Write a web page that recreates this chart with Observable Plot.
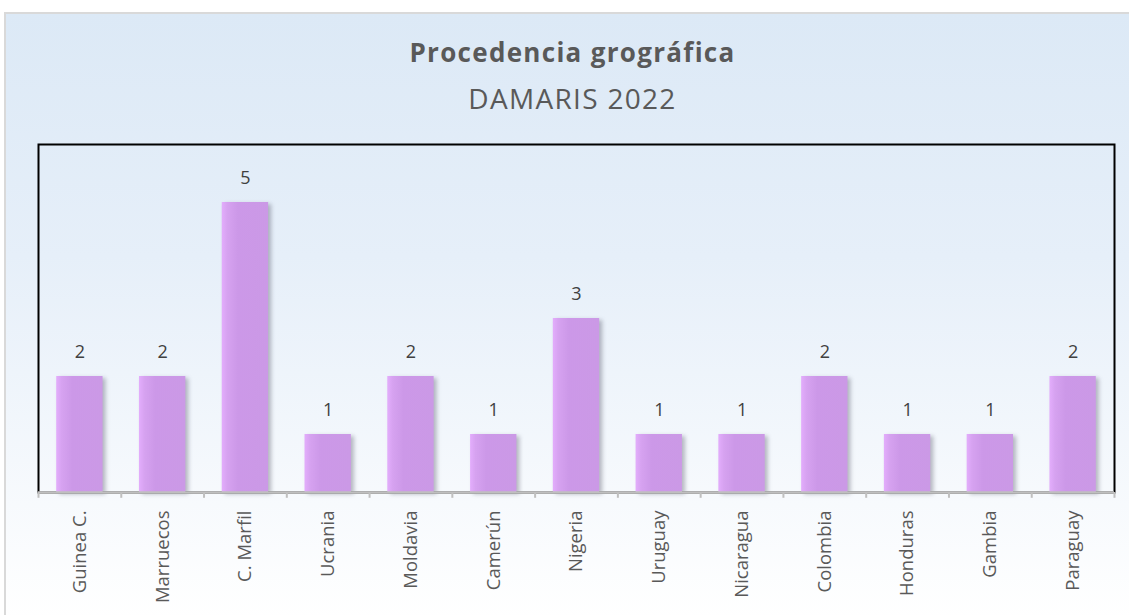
<!DOCTYPE html>
<html>
<head>
<meta charset="utf-8">
<script src="https://cdn.jsdelivr.net/npm/d3@7"></script>
<script src="https://cdn.jsdelivr.net/npm/@observablehq/plot@0.6"></script>
<style>
  html, body { margin: 0; padding: 0; background: #fff; width: 1129px; height: 615px; overflow: hidden; }
  #frame { position: absolute; left: 4px; top: 12px; width: 1130px; height: 610px;
    border: 2px solid #d9d9d9; box-sizing: border-box;
    background: linear-gradient(to bottom, #dce9f6 0%, #e6eff9 40%, #ffffff 100%); }
  #title { position: absolute; left: 10px; width: 1125px; top: 39px; text-align: center; line-height: 1;
    font-family: "Open Sans", sans-serif; font-weight: bold; font-size: 26px; letter-spacing: 1.3px; color: #595959; }
  #subtitle { position: absolute; left: 10px; width: 1125px; top: 84px; text-align: center; line-height: 1;
    font-family: "Open Sans", sans-serif; font-size: 28px; letter-spacing: 1.3px; color: #595959; }
  #chart { position: absolute; left: 0; top: 0; }
  #chart svg { background: transparent !important; }
  .bars rect { filter: drop-shadow(3px 2px 2px rgba(60,60,80,0.35)); }
</style>
</head>
<body>
<div id="frame"></div>
<div id="title">Procedencia grográfica</div>
<div id="subtitle">DAMARIS 2022</div>
<div id="chart"></div>
<script>
const categories = ["Guinea C.", "Marruecos", "C. Marfil", "Ucrania", "Moldavia", "Camerún", "Nigeria", "Uruguay", "Nicaragua", "Colombia", "Honduras", "Gambia", "Paraguay"];
const values = [2, 2, 5, 1, 2, 1, 3, 1, 1, 2, 1, 1, 2];

const data = categories.map((c, i) => ({country: c, value: values[i]}));

const W = 1129, H = 615;
const mL = 38, mR = 15, mT = 144, mB = 123;
const step = (W - mL - mR) / categories.length;

const plot = Plot.plot({
  width: W,
  height: H,
  marginLeft: mL,
  marginRight: mR,
  marginTop: mT,
  marginBottom: mB,
  style: {background: "transparent", fontFamily: "'Open Sans', sans-serif"},
  x: {domain: categories, paddingInner: 0.44, paddingOuter: 0.22, round: false, axis: null},
  y: {domain: [0, 6], axis: null},
  marks: [
    Plot.frame({stroke: "#000", strokeWidth: 2}),
    Plot.barY(data, {x: "country", y: "value", fill: "url(#barGrad)", className: "bars"}),
    Plot.ruleY([0], {stroke: "#bfbfbf", strokeWidth: 2.5}),
    Plot.ruleX(categories, {x: d => d, dx: -step / 2, y1: 0, y2: -0.1, stroke: "#bfbfbf", strokeWidth: 2}),
    Plot.ruleX([categories[categories.length - 1]], {x: d => d, dx: step / 2, y1: 0, y2: -0.1, stroke: "#bfbfbf", strokeWidth: 2}),
    Plot.text(data, {x: "country", y: "value", text: d => String(d.value), dy: -24, fontSize: 18, fill: "#404040", lineAnchor: "middle"}),
    Plot.text(data, {x: "country", y: 0, text: "country", rotate: -90, dy: 18, textAnchor: "end", lineAnchor: "middle", fontSize: 18.5, fill: "#595959"})
  ]
});

// gradient definition for bars
const ns = "http://www.w3.org/2000/svg";
const defs = document.createElementNS(ns, "defs");
defs.innerHTML = `
  <linearGradient id="barGrad" x1="0" x2="1" y1="0" y2="0">
    <stop offset="0%" stop-color="#e3adfc"/>
    <stop offset="12%" stop-color="#d6a2f0"/>
    <stop offset="35%" stop-color="#cc98e8"/>
    <stop offset="100%" stop-color="#cb99e6"/>
  </linearGradient>`;
plot.insertBefore(defs, plot.firstChild);

document.getElementById("chart").appendChild(plot);
</script>
</body>
</html>
